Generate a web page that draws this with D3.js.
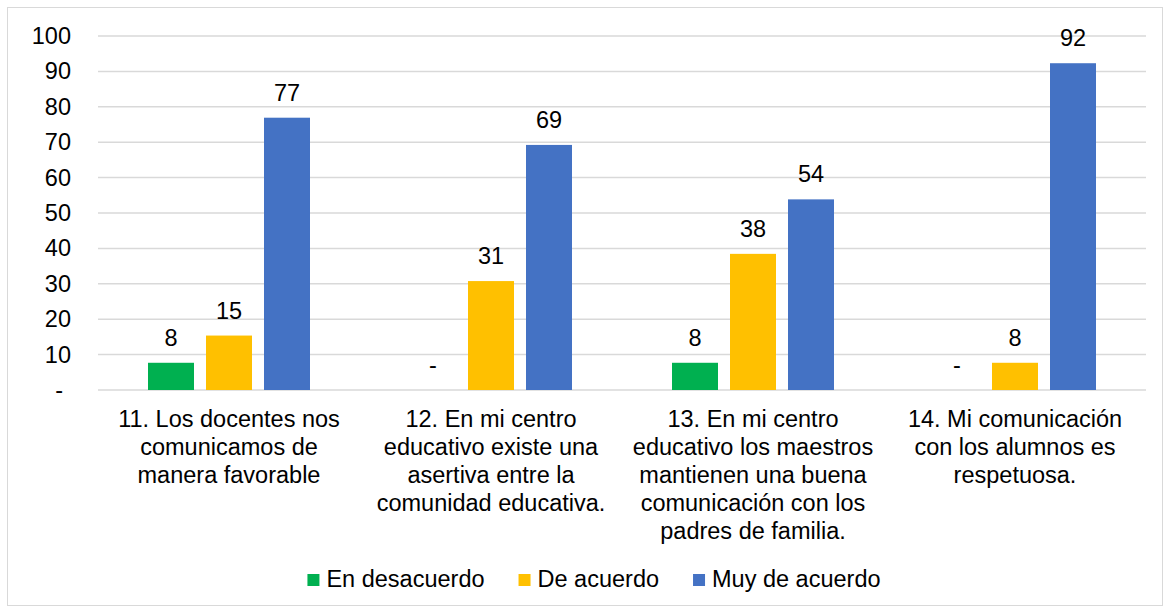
<!DOCTYPE html>
<html lang="es">
<head>
<meta charset="utf-8">
<title>Comunicación</title>
<script src="https://cdn.jsdelivr.net/npm/d3@7"></script>
<style>
  body { margin: 0; background: #fff; font-family: "Liberation Sans", Arial, sans-serif; }
  text { font-family: "Liberation Sans", Arial, sans-serif; fill: #000; }
</style>
</head>
<body>
<script>
// data
var categories = [
  "11. Los docentes nos\ncomunicamos de\nmanera favorable",
  "12. En mi centro\neducativo existe una\nasertiva entre la\ncomunidad educativa.",
  "13. En mi centro\neducativo los maestros\nmantienen una buena\ncomunicación con los\npadres de familia.",
  "14. Mi comunicación\ncon los alumnos es\nrespetuosa."
];
var seriesNames = ["En desacuerdo", "De acuerdo", "Muy de acuerdo"];
var enDesacuerdo = [7.69, 0, 7.69, 0];
var deAcuerdo = [15.38, 30.77, 38.46, 7.69];
var muyDeAcuerdo = [76.92, 69.23, 53.85, 92.31];
var yTicks = [0, 10, 20, 30, 40, 50, 60, 70, 80, 90, 100];
var colors = ["#00B050", "#FFC000", "#4472C4"];

var series = [enDesacuerdo, deAcuerdo, muyDeAcuerdo];

var w = 1167, h = 613;
var plotLeft = 98, plotRight = 1146, plotTop = 36, plotBottom = 390;
var fs = 23.5;

var svg = d3.select("body").append("svg")
  .attr("width", w).attr("height", h);

// border
svg.append("rect")
  .attr("x", 7.5).attr("y", 7.5)
  .attr("width", 1155).attr("height", 598)
  .attr("fill", "#fff").attr("stroke", "#D9D9D9");

var xScale = d3.scaleBand()
  .domain(d3.range(categories.length))
  .range([plotLeft, plotRight]);

var yScale = d3.scaleLinear()
  .domain([0, 100])
  .range([plotBottom, plotTop]);

// bars inside a band
var barW = 46;
var barGap = 12;
var groupW = 3 * barW + 2 * barGap;
var xInner = d3.scaleBand()
  .domain(d3.range(3))
  .range([0, groupW])
  .paddingInner(barGap / (barW + barGap))
  .paddingOuter(0);

// gridlines
svg.append("g")
  .selectAll("line")
  .data(yTicks)
  .enter().append("line")
  .attr("x1", plotLeft).attr("x2", plotRight)
  .attr("y1", function(d) { return yScale(d); })
  .attr("y2", function(d) { return yScale(d); })
  .attr("stroke", "#D9D9D9")
  .attr("stroke-width", 1.5);

// y axis labels
var yAxis = d3.axisLeft(yScale)
  .tickValues(yTicks)
  .tickSize(0)
  .tickPadding(27)
  .tickFormat(function(d) { return d === 0 ? "-" : d; });

var gy = svg.append("g")
  .attr("transform", "translate(" + plotLeft + ",0)")
  .call(yAxis);
gy.select(".domain").remove();
gy.selectAll("text")
  .attr("font-family", null)
  .attr("font-size", fs)
  .attr("fill", "#000");
gy.selectAll(".tick text").filter(function(d) { return d === 0; })
  .attr("dx", -8);

// bars
var groups = svg.selectAll("g.series")
  .data(series)
  .enter().append("g")
  .attr("class", "series");

groups.each(function(vals, si) {
  var g = d3.select(this);
  var off = (xScale.bandwidth() - groupW) / 2;
  g.selectAll("rect")
    .data(vals)
    .enter().append("rect")
    .attr("x", function(d, i) { return xScale(i) + off + xInner(si); })
    .attr("width", xInner.bandwidth())
    .attr("y", function(d) { return yScale(d); })
    .attr("height", function(d) { return yScale(0) - yScale(d); })
    .attr("fill", colors[si]);

  g.selectAll("text")
    .data(vals)
    .enter().append("text")
    .attr("x", function(d, i) { return xScale(i) + off + xInner(si) + xInner.bandwidth() / 2; })
    .attr("y", function(d) { return yScale(d) - 17; })
    .attr("text-anchor", "middle")
    .attr("font-size", fs)
    .text(function(d) { return d === 0 ? "-" : Math.round(d); });
});

// category labels
var catG = svg.append("g");
categories.forEach(function(c, i) {
  var t = catG.append("text")
    .attr("text-anchor", "middle")
    .attr("font-size", fs);
  c.split("\n").forEach(function(line, li) {
    t.append("tspan")
      .attr("x", xScale(i) + xScale.bandwidth() / 2)
      .attr("y", 427 + li * 28)
      .text(line);
  });
});

// legend
var leg = svg.append("g");
var items = seriesNames.map(function(name, i) {
  var gi = leg.append("g");
  gi.append("rect")
    .attr("y", 574)
    .attr("width", 12).attr("height", 12)
    .attr("fill", colors[i]);
  var tx = gi.append("text")
    .attr("x", 19).attr("y", 587)
    .attr("font-size", fs)
    .text(name);
  return { g: gi, w: 19 + tx.node().getComputedTextLength() };
});
var legGap = 34;
var total = d3.sum(items, function(d) { return d.w; }) + legGap * (items.length - 1);
var lx = 594 - total / 2;
items.forEach(function(it) {
  it.g.attr("transform", "translate(" + lx + ",0)");
  lx += it.w + legGap;
});
</script>
</body>
</html>
